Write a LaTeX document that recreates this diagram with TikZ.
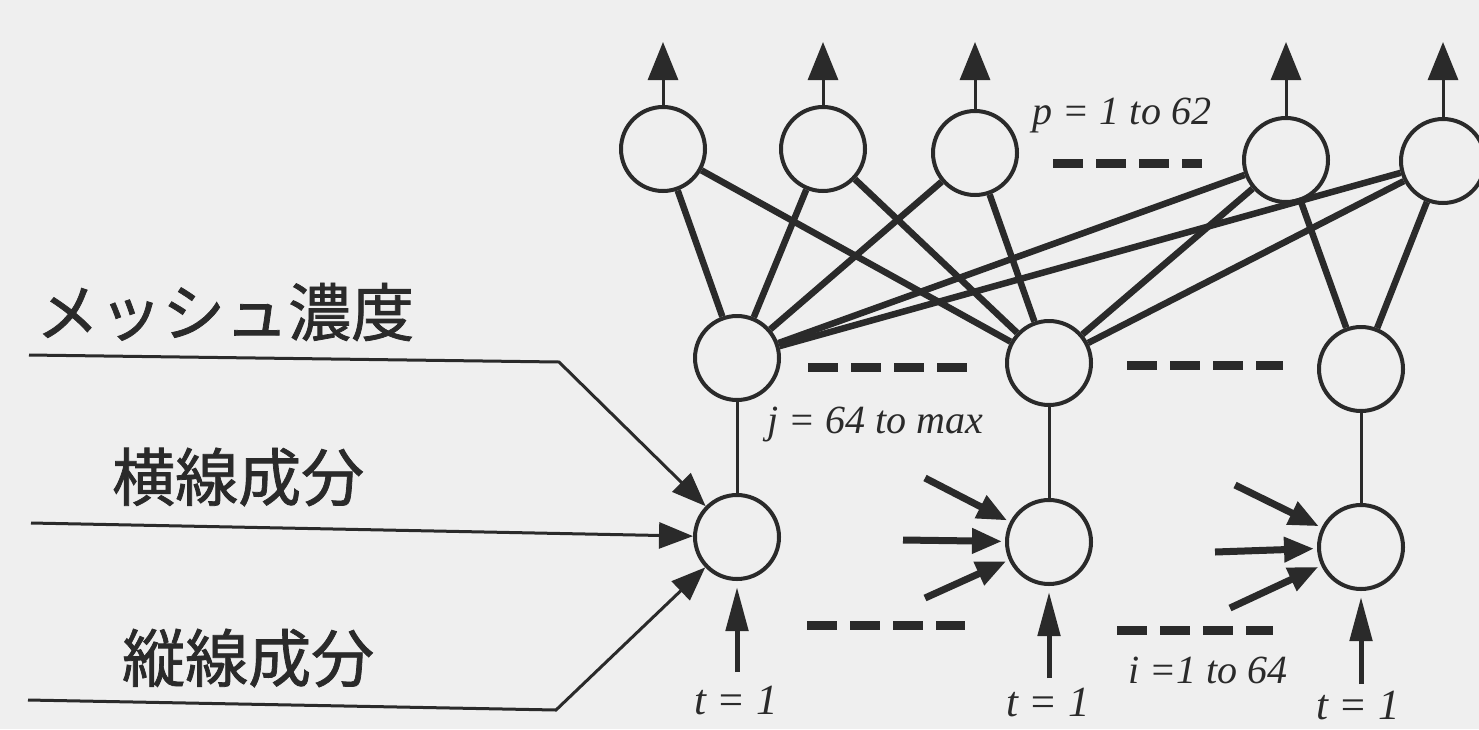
\documentclass[tikz,border=0pt]{standalone}
\usepackage{fontspec}
\setmainfont{Liberation Serif}
\newfontfamily\jpfont[FakeBold=1.2]{Noto Sans CJK JP}
\usetikzlibrary{arrows.meta}

\definecolor{ink}{RGB}{42,42,42}
\definecolor{paper}{RGB}{239,239,239}

\begin{document}
\begin{tikzpicture}[
    x=1pt, y=-1pt,
    neuron/.style={circle, draw=ink, line width=4pt, minimum size=84pt, inner sep=0pt},
    link/.style={draw=ink, line width=6.5pt},
    stem/.style={draw=ink, line width=3pt},
    feed/.style={draw=ink, line width=3pt, -{Triangle[length=34pt,width=26pt]}},
    outarrow/.style={draw=ink, line width=3pt, -{Triangle[length=38pt,width=30pt]}},
    pix/.style={draw=ink, line width=7pt, shorten >=3pt, -{Triangle[length=30pt,width=24pt]}},
    clock/.style={draw=ink, line width=5pt, shorten >=6pt, -{Triangle[length=44pt,width=22pt]}},
    gap/.style={draw=ink, line width=9pt, dash pattern=on 30pt off 13pt},
    idx/.style={text=ink, font=\itshape\fontsize{40}{40}\selectfont, inner sep=0pt},
    tidx/.style={idx, font=\itshape\fontsize{43}{43}\selectfont},
    jp/.style={text=ink, font=\jpfont\fontsize{63}{63}\selectfont, anchor=west, inner sep=0pt}
]
    \path[fill=paper, use as bounding box] (0,0) rectangle (1479,729);

    % output layer
    \node[neuron] (o1) at (663,149) {};
    \node[neuron] (o2) at (823,149) {};
    \node[neuron] (o3) at (975,153) {};
    \node[neuron] (o4) at (1286,160) {};
    \node[neuron] (o5) at (1443,161) {};

    % hidden layer
    \node[neuron] (h1) at (737,358) {};
    \node[neuron] (h2) at (1049,363) {};
    \node[neuron] (h3) at (1361,369) {};

    % input layer
    \node[neuron] (i1) at (737,537) {};
    \node[neuron] (i2) at (1049,542) {};
    \node[neuron] (i3) at (1361,547) {};

    % outputs
    \foreach \n in {o1,o2,o3,o4,o5}
        \draw[outarrow] (\n.north) -- (\n.north |- 0,42);

    % hidden to output
    \foreach \h in {h1,h2}
        \foreach \o in {o1,o2,o3,o4,o5}
            \draw[link] (\h) -- (\o);
    \draw[link] (h3) -- (o4);
    \draw[link] (h3) -- (o5);

    % input to hidden
    \draw[stem] (i1) -- (h1);
    \draw[stem] (i2) -- (h2);
    \draw[stem] (i3) -- (h3);

    % feature inputs
    \coordinate (mesh) at (29,355);
    \coordinate (meshbend) at (559,362);
    \coordinate (horiz) at (31,523);
    \coordinate (vert) at (28,700);
    \coordinate (vertbend) at (556,710);
    \draw[feed] (mesh) -- (meshbend) -- (i1);
    \draw[feed] (horiz) -- (i1);
    \draw[feed] (vert) -- (vertbend) -- (i1);

    \node[jp] (meshlbl) at (36,312) {メッシュ濃度};
    \node[jp] (horizlbl) at (112,477) {横線成分};
    \node[jp] (vertlbl) at (122,658) {縦線成分};

    % pixel inputs of the other units
    \coordinate (a1) at (925,478);
    \coordinate (a2) at (903,540);
    \coordinate (a3) at (925,598);
    \coordinate (b1) at (1235,485);
    \coordinate (b2) at (1215,552);
    \coordinate (b3) at (1230,608);
    \foreach \c in {a1,a2,a3}
        \draw[pix] (\c) -- (i2);
    \foreach \c in {b1,b2,b3}
        \draw[pix] (\c) -- (i3);

    % t = 1 signals
    \coordinate (t1) at (737,672);
    \coordinate (t2) at (1049,678);
    \coordinate (t3) at (1361,684);
    \draw[clock] (t1) -- (i1);
    \draw[clock] (t2) -- (i2);
    \draw[clock] (t3) -- (i3);
    \node[tidx] (t1lbl) at (736,701) {t = 1};
    \node[tidx] (t2lbl) at (1048,703) {t = 1};
    \node[tidx] (t3lbl) at (1358,706) {t = 1};

    % ellipsis dashes
    \draw[gap] (1053,163) -- (1202,163);
    \draw[gap] (808,367) -- (968,367);
    \draw[gap] (1127,365) -- (1283,365);
    \draw[gap] (807,625) -- (965,625);
    \draw[gap] (1117,630) -- (1273,630);

    % ranges
    \node[idx] (plbl) at (1122,116) {p = 1 to 62};
    \node[idx] (jlbl) at (875,425) {j = 64 to max};
    \node[idx] (ilbl) at (1208,670) {i =1 to 64};
\end{tikzpicture}
\end{document}
